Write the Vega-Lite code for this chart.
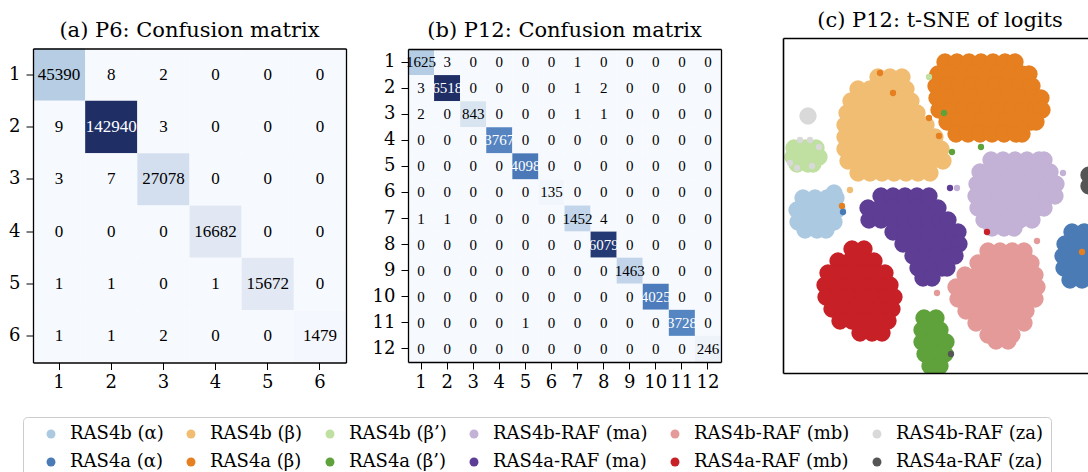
{
  "$schema": "https://vega.github.io/schema/vega-lite/v6.json",
  "background": "white",
  "padding": {"left": 8, "top": 10, "right": 0, "bottom": 0},
  "bounds": "flush",
  "center": true,
  "spacing": 62,
  "resolve": {"scale": {"fill": "independent", "color": "independent"}},
  "config": {
    "font": "DejaVu Serif",
    "view": {"stroke": null},
    "axis": {"labelFont": "DejaVu Serif", "labelFontSize": 18, "labelColor": "black", "domainColor": "black", "domainWidth": 1.3, "tickColor": "black", "tickWidth": 1, "tickSize": 7, "grid": false, "labelAngle": 0, "zindex": 1},
    "legend": {"symbolOffset": 11},
    "title": {"font": "DejaVu Serif", "fontSize": 21, "fontWeight": "normal", "color": "black", "anchor": "middle", "baseline": "alphabetic"}
  },
  "datasets": {
    "cmA": [
      {"r":1,"c":1,"v":45390},{"r":1,"c":2,"v":8},{"r":1,"c":3,"v":2},{"r":1,"c":4,"v":0},{"r":1,"c":5,"v":0},{"r":1,"c":6,"v":0},
      {"r":2,"c":1,"v":9},{"r":2,"c":2,"v":142940},{"r":2,"c":3,"v":3},{"r":2,"c":4,"v":0},{"r":2,"c":5,"v":0},{"r":2,"c":6,"v":0},
      {"r":3,"c":1,"v":3},{"r":3,"c":2,"v":7},{"r":3,"c":3,"v":27078},{"r":3,"c":4,"v":0},{"r":3,"c":5,"v":0},{"r":3,"c":6,"v":0},
      {"r":4,"c":1,"v":0},{"r":4,"c":2,"v":0},{"r":4,"c":3,"v":0},{"r":4,"c":4,"v":16682},{"r":4,"c":5,"v":0},{"r":4,"c":6,"v":0},
      {"r":5,"c":1,"v":1},{"r":5,"c":2,"v":1},{"r":5,"c":3,"v":0},{"r":5,"c":4,"v":1},{"r":5,"c":5,"v":15672},{"r":5,"c":6,"v":0},
      {"r":6,"c":1,"v":1},{"r":6,"c":2,"v":1},{"r":6,"c":3,"v":2},{"r":6,"c":4,"v":0},{"r":6,"c":5,"v":0},{"r":6,"c":6,"v":1479}
    ],
    "cmB": [
      {"r":1,"c":1,"v":1625},{"r":1,"c":2,"v":3},{"r":1,"c":3,"v":0},{"r":1,"c":4,"v":0},{"r":1,"c":5,"v":0},{"r":1,"c":6,"v":0},{"r":1,"c":7,"v":1},{"r":1,"c":8,"v":0},{"r":1,"c":9,"v":0},{"r":1,"c":10,"v":0},{"r":1,"c":11,"v":0},{"r":1,"c":12,"v":0},
      {"r":2,"c":1,"v":3},{"r":2,"c":2,"v":6518},{"r":2,"c":3,"v":0},{"r":2,"c":4,"v":0},{"r":2,"c":5,"v":0},{"r":2,"c":6,"v":0},{"r":2,"c":7,"v":1},{"r":2,"c":8,"v":2},{"r":2,"c":9,"v":0},{"r":2,"c":10,"v":0},{"r":2,"c":11,"v":0},{"r":2,"c":12,"v":0},
      {"r":3,"c":1,"v":2},{"r":3,"c":2,"v":0},{"r":3,"c":3,"v":843},{"r":3,"c":4,"v":0},{"r":3,"c":5,"v":0},{"r":3,"c":6,"v":0},{"r":3,"c":7,"v":1},{"r":3,"c":8,"v":1},{"r":3,"c":9,"v":0},{"r":3,"c":10,"v":0},{"r":3,"c":11,"v":0},{"r":3,"c":12,"v":0},
      {"r":4,"c":1,"v":0},{"r":4,"c":2,"v":0},{"r":4,"c":3,"v":0},{"r":4,"c":4,"v":3767},{"r":4,"c":5,"v":0},{"r":4,"c":6,"v":0},{"r":4,"c":7,"v":0},{"r":4,"c":8,"v":0},{"r":4,"c":9,"v":0},{"r":4,"c":10,"v":0},{"r":4,"c":11,"v":0},{"r":4,"c":12,"v":0},
      {"r":5,"c":1,"v":0},{"r":5,"c":2,"v":0},{"r":5,"c":3,"v":0},{"r":5,"c":4,"v":0},{"r":5,"c":5,"v":4098},{"r":5,"c":6,"v":0},{"r":5,"c":7,"v":0},{"r":5,"c":8,"v":0},{"r":5,"c":9,"v":0},{"r":5,"c":10,"v":0},{"r":5,"c":11,"v":0},{"r":5,"c":12,"v":0},
      {"r":6,"c":1,"v":0},{"r":6,"c":2,"v":0},{"r":6,"c":3,"v":0},{"r":6,"c":4,"v":0},{"r":6,"c":5,"v":0},{"r":6,"c":6,"v":135},{"r":6,"c":7,"v":0},{"r":6,"c":8,"v":0},{"r":6,"c":9,"v":0},{"r":6,"c":10,"v":0},{"r":6,"c":11,"v":0},{"r":6,"c":12,"v":0},
      {"r":7,"c":1,"v":1},{"r":7,"c":2,"v":1},{"r":7,"c":3,"v":0},{"r":7,"c":4,"v":0},{"r":7,"c":5,"v":0},{"r":7,"c":6,"v":0},{"r":7,"c":7,"v":1452},{"r":7,"c":8,"v":4},{"r":7,"c":9,"v":0},{"r":7,"c":10,"v":0},{"r":7,"c":11,"v":0},{"r":7,"c":12,"v":0},
      {"r":8,"c":1,"v":0},{"r":8,"c":2,"v":0},{"r":8,"c":3,"v":0},{"r":8,"c":4,"v":0},{"r":8,"c":5,"v":0},{"r":8,"c":6,"v":0},{"r":8,"c":7,"v":0},{"r":8,"c":8,"v":6079},{"r":8,"c":9,"v":0},{"r":8,"c":10,"v":0},{"r":8,"c":11,"v":0},{"r":8,"c":12,"v":0},
      {"r":9,"c":1,"v":0},{"r":9,"c":2,"v":0},{"r":9,"c":3,"v":0},{"r":9,"c":4,"v":0},{"r":9,"c":5,"v":0},{"r":9,"c":6,"v":0},{"r":9,"c":7,"v":0},{"r":9,"c":8,"v":0},{"r":9,"c":9,"v":1463},{"r":9,"c":10,"v":0},{"r":9,"c":11,"v":0},{"r":9,"c":12,"v":0},
      {"r":10,"c":1,"v":0},{"r":10,"c":2,"v":0},{"r":10,"c":3,"v":0},{"r":10,"c":4,"v":0},{"r":10,"c":5,"v":0},{"r":10,"c":6,"v":0},{"r":10,"c":7,"v":0},{"r":10,"c":8,"v":0},{"r":10,"c":9,"v":0},{"r":10,"c":10,"v":4025},{"r":10,"c":11,"v":0},{"r":10,"c":12,"v":0},
      {"r":11,"c":1,"v":0},{"r":11,"c":2,"v":0},{"r":11,"c":3,"v":0},{"r":11,"c":4,"v":0},{"r":11,"c":5,"v":1},{"r":11,"c":6,"v":0},{"r":11,"c":7,"v":0},{"r":11,"c":8,"v":0},{"r":11,"c":9,"v":0},{"r":11,"c":10,"v":0},{"r":11,"c":11,"v":3728},{"r":11,"c":12,"v":0},
      {"r":12,"c":1,"v":0},{"r":12,"c":2,"v":0},{"r":12,"c":3,"v":0},{"r":12,"c":4,"v":0},{"r":12,"c":5,"v":0},{"r":12,"c":6,"v":0},{"r":12,"c":7,"v":0},{"r":12,"c":8,"v":0},{"r":12,"c":9,"v":0},{"r":12,"c":10,"v":0},{"r":12,"c":11,"v":0},{"r":12,"c":12,"v":246}
    ],
    "blobs": [
      {"k":"bB","x":95,"y":296},{"k":"bB","x":107,"y":296},{"k":"bB","x":119,"y":296},
      {"k":"bB","x":75,"y":284},{"k":"bB","x":87,"y":284},{"k":"bB","x":99,"y":284},{"k":"bB","x":111,"y":284},{"k":"bB","x":123,"y":284},
      {"k":"bB","x":68,"y":272},{"k":"bB","x":80,"y":272},{"k":"bB","x":92,"y":272},{"k":"bB","x":104,"y":272},{"k":"bB","x":116,"y":272},{"k":"bB","x":128,"y":272},
      {"k":"bB","x":64,"y":260},{"k":"bB","x":76,"y":260},{"k":"bB","x":88,"y":260},{"k":"bB","x":100,"y":260},{"k":"bB","x":112,"y":260},{"k":"bB","x":124,"y":260},{"k":"bB","x":134,"y":260},
      {"k":"bB","x":62,"y":248},{"k":"bB","x":74,"y":248},{"k":"bB","x":86,"y":248},{"k":"bB","x":98,"y":248},{"k":"bB","x":110,"y":248},{"k":"bB","x":122,"y":248},{"k":"bB","x":134,"y":248},{"k":"bB","x":143,"y":248},
      {"k":"bB","x":62,"y":236},{"k":"bB","x":74,"y":236},{"k":"bB","x":86,"y":236},{"k":"bB","x":98,"y":236},{"k":"bB","x":110,"y":236},{"k":"bB","x":122,"y":236},{"k":"bB","x":134,"y":236},{"k":"bB","x":146,"y":236},{"k":"bB","x":152,"y":236},
      {"k":"bB","x":62,"y":224},{"k":"bB","x":74,"y":224},{"k":"bB","x":86,"y":224},{"k":"bB","x":98,"y":224},{"k":"bB","x":110,"y":224},{"k":"bB","x":122,"y":224},{"k":"bB","x":134,"y":224},{"k":"bB","x":146,"y":224},{"k":"bB","x":158,"y":224},
      {"k":"bB","x":65,"y":212},{"k":"bB","x":77,"y":212},{"k":"bB","x":89,"y":212},{"k":"bB","x":101,"y":212},{"k":"bB","x":113,"y":212},{"k":"bB","x":125,"y":212},{"k":"bB","x":137,"y":212},{"k":"bB","x":149,"y":212},{"k":"bB","x":160,"y":212},
      {"k":"bB","x":75,"y":200},{"k":"bB","x":87,"y":200},{"k":"bB","x":99,"y":200},{"k":"bB","x":111,"y":200},{"k":"bB","x":123,"y":200},{"k":"bB","x":135,"y":200},{"k":"bB","x":147,"y":200},

      {"k":"aB","x":162,"y":311},{"k":"aB","x":174,"y":311},{"k":"aB","x":186,"y":311},{"k":"aB","x":198,"y":311},{"k":"aB","x":210,"y":311},{"k":"aB","x":222,"y":311},{"k":"aB","x":232,"y":311},
      {"k":"aB","x":155,"y":299},{"k":"aB","x":167,"y":299},{"k":"aB","x":179,"y":299},{"k":"aB","x":191,"y":299},{"k":"aB","x":203,"y":299},{"k":"aB","x":215,"y":299},{"k":"aB","x":227,"y":299},{"k":"aB","x":239,"y":299},{"k":"aB","x":246,"y":299},
      {"k":"aB","x":153,"y":287},{"k":"aB","x":165,"y":287},{"k":"aB","x":177,"y":287},{"k":"aB","x":189,"y":287},{"k":"aB","x":201,"y":287},{"k":"aB","x":213,"y":287},{"k":"aB","x":225,"y":287},{"k":"aB","x":237,"y":287},{"k":"aB","x":249,"y":287},
      {"k":"aB","x":154,"y":275},{"k":"aB","x":166,"y":275},{"k":"aB","x":178,"y":275},{"k":"aB","x":190,"y":275},{"k":"aB","x":202,"y":275},{"k":"aB","x":214,"y":275},{"k":"aB","x":226,"y":275},{"k":"aB","x":238,"y":275},{"k":"aB","x":250,"y":275},{"k":"aB","x":258,"y":275},
      {"k":"aB","x":156,"y":263},{"k":"aB","x":168,"y":263},{"k":"aB","x":180,"y":263},{"k":"aB","x":192,"y":263},{"k":"aB","x":204,"y":263},{"k":"aB","x":216,"y":263},{"k":"aB","x":228,"y":263},{"k":"aB","x":240,"y":263},{"k":"aB","x":252,"y":263},{"k":"aB","x":259,"y":263},
      {"k":"aB","x":164,"y":251},{"k":"aB","x":176,"y":251},{"k":"aB","x":188,"y":251},{"k":"aB","x":200,"y":251},{"k":"aB","x":212,"y":251},{"k":"aB","x":224,"y":251},{"k":"aB","x":236,"y":251},{"k":"aB","x":248,"y":251},{"k":"aB","x":253,"y":251},
      {"k":"aB","x":173,"y":239},{"k":"aB","x":185,"y":239},{"k":"aB","x":197,"y":239},{"k":"aB","x":209,"y":239},{"k":"aB","x":221,"y":239},{"k":"aB","x":233,"y":239},{"k":"aB","x":239,"y":239},

      {"k":"bM","x":208,"y":213},{"k":"bM","x":220,"y":213},{"k":"bM","x":232,"y":213},{"k":"bM","x":244,"y":213},{"k":"bM","x":256,"y":213},{"k":"bM","x":261,"y":213},
      {"k":"bM","x":197,"y":201},{"k":"bM","x":209,"y":201},{"k":"bM","x":221,"y":201},{"k":"bM","x":233,"y":201},{"k":"bM","x":245,"y":201},{"k":"bM","x":257,"y":201},{"k":"bM","x":267,"y":201},
      {"k":"bM","x":194,"y":189},{"k":"bM","x":206,"y":189},{"k":"bM","x":218,"y":189},{"k":"bM","x":230,"y":189},{"k":"bM","x":242,"y":189},{"k":"bM","x":254,"y":189},{"k":"bM","x":266,"y":189},{"k":"bM","x":273,"y":189},
      {"k":"bM","x":193,"y":177},{"k":"bM","x":205,"y":177},{"k":"bM","x":217,"y":177},{"k":"bM","x":229,"y":177},{"k":"bM","x":241,"y":177},{"k":"bM","x":253,"y":177},{"k":"bM","x":265,"y":177},{"k":"bM","x":272,"y":177},
      {"k":"bM","x":195,"y":165},{"k":"bM","x":207,"y":165},{"k":"bM","x":219,"y":165},{"k":"bM","x":231,"y":165},{"k":"bM","x":243,"y":165},{"k":"bM","x":255,"y":165},{"k":"bM","x":261,"y":165},
      {"k":"bM","x":201,"y":153},{"k":"bM","x":213,"y":153},{"k":"bM","x":225,"y":153},{"k":"bM","x":237,"y":153},{"k":"bM","x":249,"y":153},
      {"k":"bM","x":209,"y":145},{"k":"bM","x":221,"y":145},{"k":"bM","x":231,"y":145},

      {"k":"bN","x":205,"y":122},{"k":"bN","x":217,"y":122},{"k":"bN","x":229,"y":122},{"k":"bN","x":241,"y":122},
      {"k":"bN","x":195,"y":110},{"k":"bN","x":207,"y":110},{"k":"bN","x":219,"y":110},{"k":"bN","x":231,"y":110},{"k":"bN","x":243,"y":110},{"k":"bN","x":248,"y":110},
      {"k":"bN","x":182,"y":98},{"k":"bN","x":194,"y":98},{"k":"bN","x":206,"y":98},{"k":"bN","x":218,"y":98},{"k":"bN","x":230,"y":98},{"k":"bN","x":242,"y":98},{"k":"bN","x":252,"y":98},
      {"k":"bN","x":173,"y":86},{"k":"bN","x":185,"y":86},{"k":"bN","x":197,"y":86},{"k":"bN","x":209,"y":86},{"k":"bN","x":221,"y":86},{"k":"bN","x":233,"y":86},{"k":"bN","x":245,"y":86},{"k":"bN","x":254,"y":86},
      {"k":"bN","x":175,"y":74},{"k":"bN","x":187,"y":74},{"k":"bN","x":199,"y":74},{"k":"bN","x":211,"y":74},{"k":"bN","x":223,"y":74},{"k":"bN","x":235,"y":74},{"k":"bN","x":247,"y":74},{"k":"bN","x":252,"y":74},
      {"k":"bN","x":183,"y":62},{"k":"bN","x":195,"y":62},{"k":"bN","x":207,"y":62},{"k":"bN","x":219,"y":62},{"k":"bN","x":231,"y":62},{"k":"bN","x":243,"y":62},
      {"k":"bN","x":193,"y":50},{"k":"bN","x":205,"y":50},{"k":"bN","x":217,"y":50},{"k":"bN","x":229,"y":50},{"k":"bN","x":241,"y":50},
      {"k":"bN","x":205,"y":38},{"k":"bN","x":217,"y":38},{"k":"bN","x":229,"y":38},
      {"k":"bN","x":213,"y":32},{"k":"bN","x":225,"y":32},

      {"k":"aN","x":69,"y":124},{"k":"aN","x":81,"y":124},
      {"k":"aN","x":55,"y":112},{"k":"aN","x":67,"y":112},{"k":"aN","x":79,"y":112},{"k":"aN","x":91,"y":112},
      {"k":"aN","x":45,"y":100},{"k":"aN","x":57,"y":100},{"k":"aN","x":69,"y":100},{"k":"aN","x":81,"y":100},{"k":"aN","x":93,"y":100},{"k":"aN","x":102,"y":100},
      {"k":"aN","x":42,"y":88},{"k":"aN","x":54,"y":88},{"k":"aN","x":66,"y":88},{"k":"aN","x":78,"y":88},{"k":"aN","x":90,"y":88},{"k":"aN","x":102,"y":88},{"k":"aN","x":107,"y":88},
      {"k":"aN","x":43,"y":76},{"k":"aN","x":55,"y":76},{"k":"aN","x":67,"y":76},{"k":"aN","x":79,"y":76},{"k":"aN","x":91,"y":76},{"k":"aN","x":103,"y":76},{"k":"aN","x":111,"y":76},
      {"k":"aN","x":49,"y":64},{"k":"aN","x":61,"y":64},{"k":"aN","x":73,"y":64},{"k":"aN","x":85,"y":64},{"k":"aN","x":97,"y":64},{"k":"aN","x":109,"y":64},
      {"k":"aN","x":57,"y":52},{"k":"aN","x":69,"y":52},{"k":"aN","x":81,"y":52},{"k":"aN","x":93,"y":52},{"k":"aN","x":105,"y":52},
      {"k":"aN","x":77,"y":40},{"k":"aN","x":89,"y":40},{"k":"aN","x":99,"y":40},

      {"k":"aM","x":98,"y":177},{"k":"aM","x":110,"y":177},{"k":"aM","x":122,"y":177},{"k":"aM","x":134,"y":177},{"k":"aM","x":146,"y":177},
      {"k":"aM","x":85,"y":165},{"k":"aM","x":97,"y":165},{"k":"aM","x":109,"y":165},{"k":"aM","x":121,"y":165},{"k":"aM","x":133,"y":165},{"k":"aM","x":145,"y":165},{"k":"aM","x":155,"y":165},
      {"k":"aM","x":86,"y":153},{"k":"aM","x":98,"y":153},{"k":"aM","x":110,"y":153},{"k":"aM","x":122,"y":153},{"k":"aM","x":134,"y":153},{"k":"aM","x":146,"y":153},{"k":"aM","x":158,"y":153},{"k":"aM","x":165,"y":153},
      {"k":"aM","x":110,"y":141},{"k":"aM","x":122,"y":141},{"k":"aM","x":134,"y":141},{"k":"aM","x":146,"y":141},{"k":"aM","x":158,"y":141},{"k":"aM","x":170,"y":141},{"k":"aM","x":175,"y":141},
      {"k":"aM","x":120,"y":129},{"k":"aM","x":132,"y":129},{"k":"aM","x":144,"y":129},{"k":"aM","x":156,"y":129},{"k":"aM","x":168,"y":129},{"k":"aM","x":176,"y":129},
      {"k":"aM","x":130,"y":117},{"k":"aM","x":142,"y":117},{"k":"aM","x":154,"y":117},{"k":"aM","x":166,"y":117},{"k":"aM","x":172,"y":117},
      {"k":"aM","x":135,"y":105},{"k":"aM","x":147,"y":105},{"k":"aM","x":159,"y":105},{"k":"aM","x":164,"y":105},
      {"k":"aM","x":140,"y":95},{"k":"aM","x":149,"y":95},

      {"k":"bA","x":20,"y":175},{"k":"bA","x":32,"y":175},{"k":"bA","x":44,"y":175},{"k":"bA","x":53,"y":175},{"k":"bA","x":51,"y":180},
      {"k":"bA","x":14,"y":163},{"k":"bA","x":26,"y":163},{"k":"bA","x":38,"y":163},{"k":"bA","x":50,"y":163},{"k":"bA","x":54,"y":163},
      {"k":"bA","x":15,"y":151},{"k":"bA","x":27,"y":151},{"k":"bA","x":39,"y":151},{"k":"bA","x":51,"y":151},
      {"k":"bA","x":22,"y":143},{"k":"bA","x":34,"y":143},{"k":"bA","x":43,"y":143},

      {"k":"bP","x":11,"y":225},{"k":"bP","x":22,"y":225},{"k":"bP","x":33,"y":225},
      {"k":"bP","x":10,"y":216},{"k":"bP","x":21,"y":216},{"k":"bP","x":32,"y":216},{"k":"bP","x":36,"y":216},
      {"k":"bP","x":14,"y":209},{"k":"bP","x":25,"y":209},{"k":"bP","x":30,"y":209},

      {"k":"bZ","x":25,"y":257},

      {"k":"aP","x":141,"y":55},{"k":"aP","x":153,"y":55},
      {"k":"aP","x":139,"y":43},{"k":"aP","x":151,"y":43},{"k":"aP","x":157,"y":43},
      {"k":"aP","x":139,"y":31},{"k":"aP","x":151,"y":31},{"k":"aP","x":163,"y":31},
      {"k":"aP","x":142,"y":19},{"k":"aP","x":154,"y":19},{"k":"aP","x":162,"y":19},
      {"k":"aP","x":147,"y":7},{"k":"aP","x":157,"y":7},

      {"k":"aA","x":289,"y":141},{"k":"aA","x":301,"y":141},
      {"k":"aA","x":282,"y":129},{"k":"aA","x":294,"y":129},{"k":"aA","x":303,"y":129},
      {"k":"aA","x":280,"y":117},{"k":"aA","x":292,"y":117},{"k":"aA","x":303,"y":117},
      {"k":"aA","x":281,"y":105},{"k":"aA","x":293,"y":105},{"k":"aA","x":303,"y":105},
      {"k":"aA","x":287,"y":93},{"k":"aA","x":299,"y":93},

      {"k":"aZ","x":306,"y":198},{"k":"aZ","x":306,"y":187}
    ],
    "dots": [
      {"k":"aB","x":97,"y":300},{"k":"aB","x":110,"y":280},{"k":"aB","x":146,"y":255},{"k":"aB","x":156,"y":237},{"k":"aB","x":149,"y":298},{"k":"aB","x":59,"y":167},{"k":"aB","x":299,"y":121},
      {"k":"aP","x":161,"y":260},{"k":"aP","x":198,"y":226},{"k":"aP","x":169,"y":221},
      {"k":"bP","x":146,"y":296},
      {"k":"bB","x":67,"y":183},
      {"k":"aA","x":60,"y":161},
      {"k":"aM","x":167,"y":185},
      {"k":"bM","x":174,"y":185},{"k":"bM","x":280,"y":200},
      {"k":"aN","x":204,"y":141},
      {"k":"bN","x":254,"y":132},{"k":"bN","x":154,"y":80},
      {"k":"aZ","x":168,"y":19},
      {"k":"bZ","x":17,"y":233},{"k":"bZ","x":27,"y":233},{"k":"bZ","x":36,"y":226},{"k":"bZ","x":7,"y":210},{"k":"bZ","x":14,"y":205},{"k":"bZ","x":29,"y":207}
    ]
  },
  "hconcat": [
    {
      "title": {"text": "(a) P6: Confusion matrix", "offset": 8},
      "width": 313,
      "height": 314,
      "data": {"name": "cmA"},
      "layer": [
        {
          "mark": {"type": "rect"},
          "encoding": {
            "x": {"field": "c", "type": "ordinal", "scale": {"paddingInner": 0, "paddingOuter": 0}, "axis": {"orient": "bottom", "title": null, "labelPadding": 4, "zindex": 1}},
            "y": {"field": "r", "type": "ordinal", "scale": {"paddingInner": 0, "paddingOuter": 0}, "axis": {"orient": "left", "title": null, "labelPadding": 6, "zindex": 1}},
            "fill": {"field": "v", "type": "quantitative", "scale": {"domain": [0, 16682, 27078, 45390, 142940], "range": ["#f6f9fe", "#e1e8f3", "#d3dfee", "#b6cde3", "#1f2f66"]}, "legend": null}
          }
        },
        {
          "mark": {"type": "text", "fontSize": 17, "font": "Liberation Serif"},
          "encoding": {
            "x": {"field": "c", "type": "ordinal", "axis": {"orient": "top", "title": null, "labels": false, "ticks": false, "zindex": 1}},
            "y": {"field": "r", "type": "ordinal", "axis": {"orient": "right", "title": null, "labels": false, "ticks": false, "zindex": 1}},
            "text": {"field": "v", "type": "quantitative", "format": "d"},
            "color": {"condition": {"test": "datum.v > 71470", "value": "white"}, "value": "black"}
          }
        }
      ],
      "resolve": {"axis": {"x": "independent", "y": "independent"}}
    },
    {
      "title": {"text": "(b) P12: Confusion matrix", "offset": 8},
      "width": 313,
      "height": 313,
      "data": {"name": "cmB"},
      "layer": [
        {
          "mark": {"type": "rect"},
          "encoding": {
            "x": {"field": "c", "type": "ordinal", "scale": {"paddingInner": 0, "paddingOuter": 0}, "axis": {"orient": "bottom", "title": null, "labelPadding": 4, "zindex": 1}},
            "y": {"field": "r", "type": "ordinal", "scale": {"paddingInner": 0, "paddingOuter": 0}, "axis": {"orient": "left", "title": null, "labelPadding": 6, "zindex": 1}},
            "fill": {"field": "v", "type": "quantitative", "scale": {"domain": [0, 843, 1452, 1625, 3900, 6079, 6518], "range": ["#f6f9fe", "#d9e4f1", "#c3d5ea", "#b4cde4", "#4f80bf", "#243a75", "#1f2f66"]}, "legend": null}
          }
        },
        {
          "mark": {"type": "text", "fontSize": 15, "font": "Liberation Serif"},
          "encoding": {
            "x": {"field": "c", "type": "ordinal", "axis": {"orient": "top", "title": null, "labels": false, "ticks": false, "zindex": 1}},
            "y": {"field": "r", "type": "ordinal", "axis": {"orient": "right", "title": null, "labels": false, "ticks": false, "zindex": 1}},
            "text": {"field": "v", "type": "quantitative", "format": "d"},
            "color": {"condition": {"test": "datum.v > 3259", "value": "white"}, "value": "black"}
          }
        }
      ],
      "resolve": {"axis": {"x": "independent", "y": "independent"}}
    },
    {
      "title": {"text": "(c) P12: t-SNE of logits", "offset": 7, "dx": 4.5},
      "width": 305,
      "height": 335,
      "layer": [
        {
          "data": {"name": "blobs"},
          "mark": {"type": "circle", "size": 300, "opacity": 1, "clip": true},
          "encoding": {
            "x": {"field": "x", "type": "quantitative", "scale": {"domain": [0, 305], "nice": false, "zero": false}, "axis": {"orient": "bottom", "title": null, "labels": false, "ticks": false, "domainWidth": 1.6, "zindex": 1}},
            "y": {"field": "y", "type": "quantitative", "scale": {"domain": [0, 335], "nice": false, "zero": false}, "axis": {"orient": "left", "title": null, "labels": false, "ticks": false, "domainWidth": 1.6, "zindex": 1}},
            "color": {
              "field": "k", "type": "nominal",
              "scale": {"domain": ["bA","bB","bP","bM","bN","bZ","aA","aB","aP","aM","aN","aZ"], "range": ["#abc9e1","#f0bd73","#bfe0a0","#c3b1d6","#e49a98","#d9d9d9","#4a7bb5","#e57f1f","#5fa13b","#5e3d94","#c72026","#555555"]},
              "legend": {
                "orient": "none", "legendX": -760, "legendY": 379, "columns": 6, "direction": "horizontal", "title": null,
                "symbolType": "circle", "symbolSize": 80, "symbolStrokeWidth": 0, "symbolOpacity": 1, "symbolOffset": 11,
                "labelFont": "DejaVu Serif", "labelFontSize": 18, "labelColor": "black", "labelOffset": 10,
                "columnPadding": 7, "rowPadding": 10, "padding": 8, "strokeColor": "#cccccc", "fillColor": "white", "cornerRadius": 4,
                "labelExpr": "datum.label=='bA'?'RAS4b (α)':datum.label=='bB'?'RAS4b (β)':datum.label=='bP'?'RAS4b (β’)':datum.label=='bM'?'RAS4b-RAF (ma)':datum.label=='bN'?'RAS4b-RAF (mb)':datum.label=='bZ'?'RAS4b-RAF (za)':datum.label=='aA'?'RAS4a (α)':datum.label=='aB'?'RAS4a (β)':datum.label=='aP'?'RAS4a (β’)':datum.label=='aM'?'RAS4a-RAF (ma)':datum.label=='aN'?'RAS4a-RAF (mb)':'RAS4a-RAF (za)'"
              }
            }
          }
        },
        {
          "data": {"name": "dots"},
          "mark": {"type": "circle", "size": 40, "opacity": 1, "clip": true},
          "encoding": {
            "x": {"field": "x", "type": "quantitative", "axis": {"orient": "top", "title": null, "labels": false, "ticks": false, "domainWidth": 1.6, "zindex": 1}},
            "y": {"field": "y", "type": "quantitative", "axis": {"orient": "left", "title": null, "labels": false, "ticks": false, "domainWidth": 1.6, "zindex": 1}},
            "color": {"field": "k", "type": "nominal"}
          }
        }
      ],
      "resolve": {"axis": {"x": "independent"}}
    }
  ]
}
